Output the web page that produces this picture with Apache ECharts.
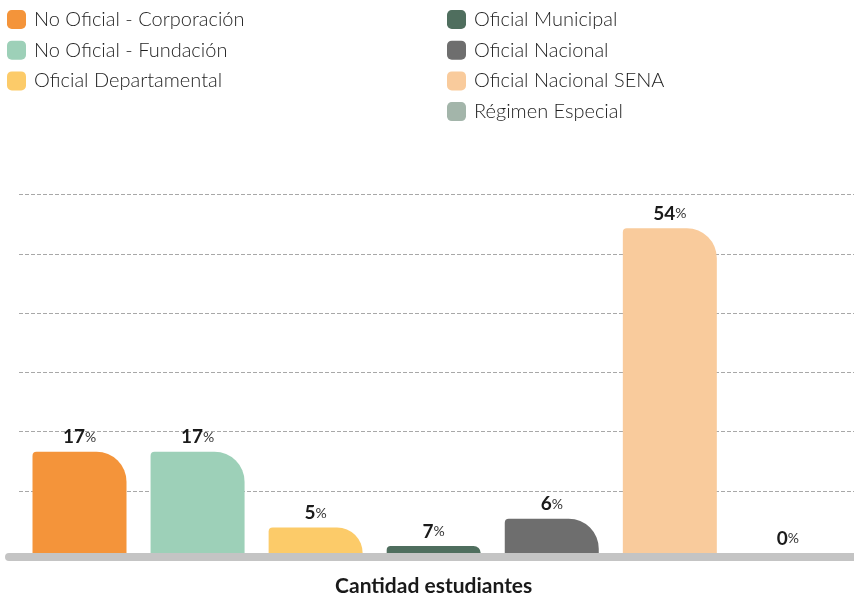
<!DOCTYPE html>
<html>
<head>
<meta charset="utf-8">
<script src="https://cdn.jsdelivr.net/npm/echarts@6/dist/echarts.min.js"></script>
<style>
html,body{margin:0;padding:0;background:#fff;}
#chart{width:854px;height:594px;}
</style>
</head>
<body>
<div id="chart"></div>
<script>
// Data
const categories = ['Cantidad estudiantes'];
const seriesNames = [
  'No Oficial - Corporación',
  'No Oficial - Fundación',
  'Oficial Departamental',
  'Oficial Municipal',
  'Oficial Nacional',
  'Oficial Nacional SENA',
  'Régimen Especial'
];
const barValues = [17.1, 17.1, 4.3, 1.2, 5.8, 54.8, 0];
const labelValues = [17, 17, 5, 7, 6, 54, 0];
const seriesColors = ['#F4943A', '#9DD0B8', '#FCCB69', '#4F6E5E', '#6E6E6E', '#F9CB9C', '#A3B5AA'];
const legendLeft = seriesNames.slice(0, 3);
const legendRight = seriesNames.slice(3);

const FONT = 'Lato, "Noto Sans", sans-serif';
const iconPath = 'path://M5,0 H15 A5,5 0 0 1 20,5 V15 A5,5 0 0 1 15,20 H5 A5,5 0 0 1 0,15 V5 A5,5 0 0 1 5,0 Z';

const chart = echarts.init(document.getElementById('chart'), null, {renderer: 'canvas'});

const legendCommon = {
  orient: 'vertical',
  top: 9.5,
  padding: 0,
  itemWidth: 19,
  itemHeight: 19,
  itemGap: 10.7,
  icon: iconPath,
  selectedMode: false,
  textStyle: {fontFamily: FONT, fontSize: 20, color: '#1e1e1e', fontWeight: 300, padding: [0, 0, 0, 3]}
};

const series = seriesNames.map((name, i) => ({
  name: name,
  type: 'bar',
  xAxisIndex: 1,
  yAxisIndex: 1,
  barWidth: 94,
  barGap: '25.6%',
  data: [barValues[i]],
  itemStyle: {color: seriesColors[i], borderRadius: [4, 30, 0, 0]},
  label: {
    show: true,
    position: 'top',
    distance: 5,
    formatter: function () { return '{n|' + labelValues[i] + '}{p|%}'; },
    rich: {
      n: {fontFamily: FONT, fontSize: 19, fontWeight: 'bold', color: '#1a1a1a'},
      p: {fontFamily: FONT, fontSize: 14, color: '#333'}
    }
  }
}));

chart.setOption({
  animation: false,
  backgroundColor: '#fff',
  legend: [
    Object.assign({left: 7, data: legendLeft}, legendCommon),
    Object.assign({left: 447, data: legendRight}, legendCommon)
  ],
  grid: [
    {left: 19, right: 0, top: 194.7, bottom: 103, containLabel: false, outerBoundsMode: 'none'},
    {left: 20, right: 6.6, top: 197.4, bottom: 41, containLabel: false, outerBoundsMode: 'none'},
    {left: 9, right: 0, top: 500, bottom: 37, containLabel: false, outerBoundsMode: 'none'}
  ],
  xAxis: [
    {gridIndex: 0, type: 'category', data: categories, show: false},
    {gridIndex: 1, type: 'category', data: categories,
      axisLine: {show: false}, axisTick: {show: false},
      axisLabel: {margin: 23, fontFamily: FONT, fontSize: 21, fontWeight: 'bold', color: '#1a1a1a'}},
    {gridIndex: 2, type: 'category', data: categories,
      axisLine: {show: true, lineStyle: {color: '#c4c4c4', width: 8, cap: 'round'}},
      axisTick: {show: false}, axisLabel: {show: false}, z: 5}
  ],
  yAxis: [
    {gridIndex: 0, type: 'value', min: 10, max: 60, interval: 10,
      axisLine: {show: false}, axisTick: {show: false}, axisLabel: {show: false},
      splitLine: {show: true, lineStyle: {color: '#a8a8a8', width: 1, type: [4, 2]}}},
    {gridIndex: 1, type: 'value', min: 0, max: 60, interval: 10, show: false, splitLine: {show: false}},
    {gridIndex: 2, type: 'value', show: false, splitLine: {show: false}}
  ],
  series: series
});
</script>
</body>
</html>
